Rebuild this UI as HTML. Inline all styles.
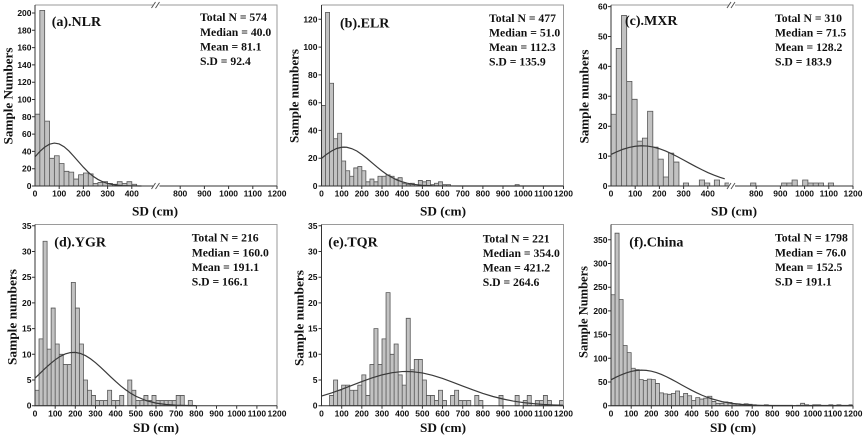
<!DOCTYPE html>
<html><head><meta charset="utf-8"><style>
html,body{margin:0;padding:0;background:#fff;}
svg{display:block;}
.tk{font-family:"Liberation Sans",Arial,sans-serif;font-weight:bold;font-size:8.5px;fill:#111;}
.sr{font-family:"Liberation Serif","Times New Roman",serif;font-weight:bold;fill:#111;}
.st{font-size:11.7px;}
.ti{font-size:14px;}
.ax{font-size:13px;}
.bar{fill:#c2c2c2;stroke:#555;stroke-width:0.8;vector-effect:non-scaling-stroke;}
.cv{fill:none;stroke:#3a3a3a;stroke-width:1.2;vector-effect:non-scaling-stroke;}
.fr{fill:none;stroke:#9a9a9a;stroke-width:1;}
.axl{fill:none;stroke:#333;stroke-width:1;}
</style></head><body>
<svg width="865" height="439" viewBox="0 0 865 439" xmlns="http://www.w3.org/2000/svg">
<rect width="865" height="439" fill="#fff"/>

<!-- ===== Panel A ===== -->
<g transform="translate(35,186) scale(0.242,-0.865)">
<path class="bar" d="M0 0v83h20v-83zM20 0v203h20v-203zM40 0v75h20v-75zM60 0v32h20v-32zM80 0v35h20v-35zM100 0v26h20v-26zM120 0v17h20v-17zM140 0v16h20v-16zM160 0v8h20v-8zM180 0v13h20v-13zM200 0v15h20v-15zM220 0v14h20v-14zM240 0v3h20v-3zM260 0v4h20v-4zM280 0v5h20v-5zM300 0v3h20v-3zM320 0v2h20v-2zM340 0v5h20v-5zM360 0v3h20v-3zM380 0v5h20v-5zM400 0v2h20v-2z"/>
<polyline class="cv" points="0,33.7 20,39.9 40,44.9 60,48.3 80,49.6 100,48.6 120,45.4 140,40.5 160,34.4 180,28.0 200,21.7 220,16.0 240,11.3 260,7.6 280,4.9 300,3.0 320,1.75 340,0.98 360,0.52 380,0.27 400,0.13 440,0.03"/>
</g>
<path class="fr" d="M35 5H277V186"/>
<path class="axl" d="M35 5V186H277"/>
<path class="axl" d="M32 186h3M32 168.7h3M32 151.4h3M32 134.1h3M32 116.8h3M32 99.5h3M32 82.2h3M32 64.9h3M32 47.6h3M32 30.3h3M32 13h3M59.2 186v3M83.4 186v3M107.6 186v3M131.8 186v3M180.2 186v3M204.4 186v3M228.6 186v3M252.8 186v3M277 186v3"/>
<rect x="153.5" y="1" width="6" height="8" fill="#fff"/><rect x="153.5" y="182" width="6" height="8" fill="#fff"/>
<path d="M151.5 8L155.5 2M155.5 8L159.5 2M151.5 189L155.5 183M155.5 189L159.5 183" stroke="#555" stroke-width="1" fill="none"/>
<g class="tk" text-anchor="end">
<text x="31.5" y="189">0</text><text x="31.5" y="171.7">20</text><text x="31.5" y="154.4">40</text><text x="31.5" y="137.1">60</text><text x="31.5" y="119.8">80</text><text x="31.5" y="102.5">100</text><text x="31.5" y="85.2">120</text><text x="31.5" y="67.9">140</text><text x="31.5" y="50.6">160</text><text x="31.5" y="33.3">180</text><text x="31.5" y="16">200</text>
</g>
<g class="tk" text-anchor="middle">
<text x="35" y="196.7">0</text><text x="59.2" y="196.7">100</text><text x="83.4" y="196.7">200</text><text x="107.6" y="196.7">300</text><text x="131.8" y="196.7">400</text><text x="180.2" y="196.7">800</text><text x="204.4" y="196.7">900</text><text x="228.6" y="196.7">1000</text><text x="252.8" y="196.7">1100</text><text x="277" y="196.7">1200</text>
</g>
<text class="sr ti" x="51.7" y="26">(a).NLR</text>
<g class="sr st"><text x="200" y="21">Total N = 574</text><text x="200" y="35.8">Median = 40.0</text><text x="200" y="50.5">Mean = 81.1</text><text x="200" y="65.2">S.D = 92.4</text></g>
<text class="sr ax" text-anchor="middle" x="155" y="215.5" textLength="46" lengthAdjust="spacingAndGlyphs">SD (cm)</text>
<text class="sr ax" text-anchor="middle" transform="translate(12.5,96) rotate(-90)" textLength="97" lengthAdjust="spacingAndGlyphs">Sample Numbers</text>

<!-- ===== Panel B ===== -->
<g transform="translate(321.5,186) scale(0.2017,-1.389)">
<path class="bar" d="M0 0v58h20v-58zM20 0v125h20v-125zM40 0v74h20v-74zM60 0v34h20v-34zM80 0v38h20v-38zM100 0v18h20v-18zM120 0v11h20v-11zM140 0v7h20v-7zM160 0v13h20v-13zM180 0v14h20v-14zM200 0v11h20v-11zM220 0v3h20v-3zM240 0v5h20v-5zM260 0v3h20v-3zM280 0v7h20v-7zM300 0v7h20v-7zM320 0v8h20v-8zM340 0v7h20v-7zM360 0v5h20v-5zM380 0v6h20v-6zM400 0v2h20v-2zM420 0v1h20v-1zM440 0v2h20v-2zM480 0v4h20v-4zM500 0v3h20v-3zM520 0v4h20v-4zM540 0v1h20v-1zM560 0v2h20v-2zM580 0v3h20v-3zM600 0v1h20v-1zM620 0v1h20v-1zM960 0v1h20v-1z"/>
<polyline class="cv" points="0,19.9 25,22.8 50,25.2 75,27.0 100,27.9 112,28.0 125,27.9 150,26.9 175,25.2 200,22.7 225,19.9 250,16.8 275,13.7 300,10.8 325,8.2 350,6.1 375,4.3 400,3.0 425,2.0 450,1.28 500,0.48 550,0.16 600,0.05 700,0 1200,0"/>
</g>
<path class="fr" d="M321.5 5H563.5V186"/>
<path class="axl" d="M321.5 5V186H563.5"/>
<path class="axl" d="M318.5 186h3M318.5 158.2h3M318.5 130.4h3M318.5 102.7h3M318.5 74.9h3M318.5 47.1h3M318.5 19.3h3M341.7 186v3M361.8 186v3M382 186v3M402.2 186v3M422.4 186v3M442.5 186v3M462.7 186v3M482.9 186v3M503 186v3M523.2 186v3M543.4 186v3M563.5 186v3"/>
<g class="tk" text-anchor="end">
<text x="317.5" y="189">0</text><text x="317.5" y="161.2">20</text><text x="317.5" y="133.4">40</text><text x="317.5" y="105.7">60</text><text x="317.5" y="77.9">80</text><text x="317.5" y="50.1">100</text><text x="317.5" y="22.3">120</text>
</g>
<g class="tk" text-anchor="middle">
<text x="321.5" y="196.7">0</text><text x="341.7" y="196.7">100</text><text x="361.8" y="196.7">200</text><text x="382" y="196.7">300</text><text x="402.2" y="196.7">400</text><text x="422.4" y="196.7">500</text><text x="442.5" y="196.7">600</text><text x="462.7" y="196.7">700</text><text x="482.9" y="196.7">800</text><text x="503" y="196.7">900</text><text x="523.2" y="196.7">1000</text><text x="543.4" y="196.7">1100</text><text x="563.5" y="196.7">1200</text>
</g>
<text class="sr ti" x="340" y="27.5">(b).ELR</text>
<g class="sr st"><text x="489" y="22">Total N = 477</text><text x="489" y="36.5">Median = 51.0</text><text x="489" y="51">Mean = 112.3</text><text x="489" y="65.5">S.D = 135.9</text></g>
<text class="sr ax" text-anchor="middle" x="443" y="215.5" textLength="46" lengthAdjust="spacingAndGlyphs">SD (cm)</text>
<text class="sr ax" text-anchor="middle" transform="translate(298.5,96) rotate(-90)" textLength="94" lengthAdjust="spacingAndGlyphs">Sample numbers</text>

<!-- ===== Panel C ===== -->
<g transform="translate(611,186) scale(0.242,-2.99)">
<path class="bar" d="M0 0v24h21.6v-24zM21.6 0v46h21.6v-46zM43.2 0v57h21.6v-57zM64.8 0v35h21.6v-35zM86.4 0v29h21.6v-29zM108 0v15h21.6v-15zM129.6 0v16h21.6v-16zM151.2 0v25h21.6v-25zM172.8 0v13h21.6v-13zM194.4 0v9h21.6v-9zM216 0v3h21.6v-3zM237.6 0v11h21.6v-11zM259.2 0v8h21.6v-8zM299 0v1h21.6v-1zM365 0v2h21.6v-2zM386.6 0v1h21.6v-1zM427 0v2h21.6v-2zM471 0v1h21.6v-1zM577 0v1h21.6v-1zM705 0v1h21.6v-1zM726.6 0v1h21.6v-1zM748.2 0v2h21.6v-2zM792 0v2h21.6v-2zM813.6 0v1h21.6v-1zM835.2 0v1h21.6v-1zM856.8 0v1h21.6v-1zM898 0v1h21.6v-1z"/>
<polyline class="cv" points="0,10.55 25,11.49 50,12.29 75,12.90 100,13.29 125,13.45 150,13.36 175,13.02 200,12.46 225,11.71 250,10.80 275,9.78 300,8.69 325,7.59 350,6.50 375,5.47 400,4.51 425,3.66 450,2.91 470,2.4"/>
</g>
<path class="fr" d="M611 5H853V186"/>
<path class="axl" d="M611 5V186H853"/>
<path class="axl" d="M608 186h3M608 156.1h3M608 126.2h3M608 96.3h3M608 66.4h3M608 36.5h3M608 6.6h3M635.2 186v3M659.4 186v3M683.6 186v3M707.8 186v3M756.2 186v3M780.4 186v3M804.6 186v3M828.8 186v3M853 186v3"/>
<rect x="729" y="1" width="6" height="8" fill="#fff"/><rect x="729" y="182" width="6" height="8" fill="#fff"/>
<path d="M727 8L731 2M731 8L735 2M727 189L731 183M731 189L735 183" stroke="#555" stroke-width="1" fill="none"/>
<g class="tk" text-anchor="end">
<text x="607.5" y="189">0</text><text x="607.5" y="159.1">10</text><text x="607.5" y="129.2">20</text><text x="607.5" y="99.3">30</text><text x="607.5" y="69.4">40</text><text x="607.5" y="39.5">50</text><text x="607.5" y="9.6">60</text>
</g>
<g class="tk" text-anchor="middle">
<text x="611" y="196.7">0</text><text x="635.2" y="196.7">100</text><text x="659.4" y="196.7">200</text><text x="683.6" y="196.7">300</text><text x="707.8" y="196.7">400</text><text x="756.2" y="196.7">800</text><text x="780.4" y="196.7">900</text><text x="804.6" y="196.7">1000</text><text x="828.8" y="196.7">1100</text><text x="853" y="196.7">1200</text>
</g>
<text class="sr ti" x="625" y="25">(c).MXR</text>
<g class="sr st"><text x="775" y="22">Total N = 310</text><text x="775" y="36.5">Median = 71.5</text><text x="775" y="51">Mean = 128.2</text><text x="775" y="65.5">S.D = 183.9</text></g>
<text class="sr ax" text-anchor="middle" x="734" y="215.5" textLength="46" lengthAdjust="spacingAndGlyphs">SD (cm)</text>
<text class="sr ax" text-anchor="middle" transform="translate(588.5,96.5) rotate(-90)" textLength="94" lengthAdjust="spacingAndGlyphs">Sample numbers</text>

<!-- ===== Panel D ===== -->
<g transform="translate(35,405.7) scale(0.2017,-5.14)">
<path class="bar" d="M0 0v3h20v-3zM20 0v13h20v-13zM40 0v32h20v-32zM60 0v11h20v-11zM80 0v19h20v-19zM100 0v12h20v-12zM120 0v10h20v-10zM140 0v8h20v-8zM160 0v8h20v-8zM180 0v24h20v-24zM200 0v19h20v-19zM220 0v12h20v-12zM240 0v5h20v-5zM260 0v3h20v-3zM280 0v2h20v-2zM300 0v1h20v-1zM320 0v1h20v-1zM340 0v1h20v-1zM360 0v3h20v-3zM380 0v1h20v-1zM400 0v1h20v-1zM420 0v2h20v-2zM460 0v5h20v-5zM480 0v3h20v-3zM500 0v1h20v-1zM520 0v1h20v-1zM540 0v2h20v-2zM560 0v1h20v-1zM580 0v2h20v-2zM600 0v1h20v-1zM620 0v1h20v-1zM640 0v1h20v-1zM660 0v1h20v-1zM680 0v1h20v-1zM700 0v2h20v-2zM720 0v2h20v-2zM760 0v1h20v-1z"/>
<polyline class="cv" points="0,5.36 25,6.30 50,7.24 75,8.13 100,8.93 125,9.59 150,10.07 175,10.33 200,10.37 225,10.17 250,9.75 275,9.14 300,8.37 325,7.50 350,6.57 375,5.62 400,4.71 425,3.85 450,3.08 475,2.41 500,1.84 550,1.01 600,0.50 650,0.23 700,0.095 750,0.035 800,0.012"/>
</g>
<path class="fr" d="M35 224.5H277V405.7"/>
<path class="axl" d="M35 224.5V405.7H277"/>
<path class="axl" d="M32 405.7h3M32 380h3M32 354.3h3M32 328.6h3M32 302.9h3M32 277.2h3M32 251.5h3M32 225.8h3M55.2 405.7v3M75.3 405.7v3M95.5 405.7v3M115.7 405.7v3M135.9 405.7v3M156 405.7v3M176.2 405.7v3M196.4 405.7v3M216.5 405.7v3M236.7 405.7v3M256.9 405.7v3M277 405.7v3"/>
<g class="tk" text-anchor="end">
<text x="31.5" y="408.7">0</text><text x="31.5" y="383">5</text><text x="31.5" y="357.3">10</text><text x="31.5" y="331.6">15</text><text x="31.5" y="305.9">20</text><text x="31.5" y="280.2">25</text><text x="31.5" y="254.5">30</text><text x="31.5" y="228.8">35</text>
</g>
<g class="tk" text-anchor="middle">
<text x="35" y="416.5">0</text><text x="55.2" y="416.5">100</text><text x="75.3" y="416.5">200</text><text x="95.5" y="416.5">300</text><text x="115.7" y="416.5">400</text><text x="135.9" y="416.5">500</text><text x="156" y="416.5">600</text><text x="176.2" y="416.5">700</text><text x="196.4" y="416.5">800</text><text x="216.5" y="416.5">900</text><text x="236.7" y="416.5">1000</text><text x="256.9" y="416.5">1100</text><text x="277" y="416.5">1200</text>
</g>
<text class="sr ti" x="54.3" y="246.3">(d).YGR</text>
<g class="sr st"><text x="191.7" y="241.7">Total N = 216</text><text x="191.7" y="256.3">Median = 160.0</text><text x="191.7" y="270.8">Mean = 191.1</text><text x="191.7" y="285.3">S.D = 166.1</text></g>
<text class="sr ax" text-anchor="middle" x="156" y="432" textLength="46" lengthAdjust="spacingAndGlyphs">SD (cm)</text>
<text class="sr ax" text-anchor="middle" transform="translate(16.5,317) rotate(-90)" textLength="96" lengthAdjust="spacingAndGlyphs">Sample numbers</text>

<!-- ===== Panel E ===== -->
<g transform="translate(321.5,405.7) scale(0.2017,-5.14)">
<path class="bar" d="M40 0v2h20v-2zM60 0v5h20v-5zM80 0v3h20v-3zM100 0v4h20v-4zM120 0v4h20v-4zM140 0v3h20v-3zM160 0v3h20v-3zM180 0v4h20v-4zM200 0v6h20v-6zM220 0v2h20v-2zM240 0v8h20v-8zM260 0v15h20v-15zM280 0v8h20v-8zM300 0v13h20v-13zM320 0v22h20v-22zM340 0v10h20v-10zM360 0v12h20v-12zM380 0v6h20v-6zM400 0v4h20v-4zM420 0v17h20v-17zM440 0v7h20v-7zM460 0v9h20v-9zM480 0v9h20v-9zM500 0v5h20v-5zM520 0v2h20v-2zM540 0v2h20v-2zM560 0v1h20v-1zM580 0v3h20v-3zM600 0v1h20v-1zM640 0v2h20v-2zM660 0v3h20v-3zM680 0v1h20v-1zM700 0v1h20v-1zM720 0v1h20v-1zM760 0v2h20v-2zM780 0v1h20v-1zM880 0v2h20v-2zM960 0v2h20v-2zM1000 0v1h20v-1zM1020 0v2h20v-2zM1060 0v1h20v-1zM1080 0v1h20v-1zM1100 0v2h20v-2zM1120 0v1h20v-1zM1180 0v1h20v-1z"/>
<polyline class="cv" points="0,1.88 50,2.49 100,3.19 150,3.94 200,4.70 250,5.40 300,6.00 350,6.42 400,6.64 421,6.66 450,6.62 500,6.37 550,5.92 600,5.30 650,4.58 700,3.82 750,3.08 800,2.39 850,1.79 900,1.30 950,0.90 1000,0.61 1050,0.40 1100,0.25 1150,0.15 1200,0.09"/>
</g>
<path class="fr" d="M321.5 224.5H563.5V405.7"/>
<path class="axl" d="M321.5 224.5V405.7H563.5"/>
<path class="axl" d="M318.5 405.7h3M318.5 380h3M318.5 354.3h3M318.5 328.6h3M318.5 302.9h3M318.5 277.2h3M318.5 251.5h3M318.5 225.8h3M341.7 405.7v3M361.8 405.7v3M382 405.7v3M402.2 405.7v3M422.4 405.7v3M442.5 405.7v3M462.7 405.7v3M482.9 405.7v3M503 405.7v3M523.2 405.7v3M543.4 405.7v3M563.5 405.7v3"/>
<g class="tk" text-anchor="end">
<text x="317.5" y="408.7">0</text><text x="317.5" y="383">5</text><text x="317.5" y="357.3">10</text><text x="317.5" y="331.6">15</text><text x="317.5" y="305.9">20</text><text x="317.5" y="280.2">25</text><text x="317.5" y="254.5">30</text><text x="317.5" y="228.8">35</text>
</g>
<g class="tk" text-anchor="middle">
<text x="321.5" y="416.5">0</text><text x="341.7" y="416.5">100</text><text x="361.8" y="416.5">200</text><text x="382" y="416.5">300</text><text x="402.2" y="416.5">400</text><text x="422.4" y="416.5">500</text><text x="442.5" y="416.5">600</text><text x="462.7" y="416.5">700</text><text x="482.9" y="416.5">800</text><text x="503" y="416.5">900</text><text x="523.2" y="416.5">1000</text><text x="543.4" y="416.5">1100</text><text x="563.5" y="416.5">1200</text>
</g>
<text class="sr ti" x="328.3" y="246.3">(e).TQR</text>
<g class="sr st"><text x="482.7" y="242.3">Total N = 221</text><text x="482.7" y="256.8">Median = 354.0</text><text x="482.7" y="271.3">Mean = 421.2</text><text x="482.7" y="285.8">S.D = 264.6</text></g>
<text class="sr ax" text-anchor="middle" x="443" y="432" textLength="46" lengthAdjust="spacingAndGlyphs">SD (cm)</text>
<text class="sr ax" text-anchor="middle" transform="translate(303.5,318) rotate(-90)" textLength="96" lengthAdjust="spacingAndGlyphs">Sample numbers</text>

<!-- ===== Panel F ===== -->
<g transform="translate(611,405.7) scale(0.2017,-0.474)">
<path class="bar" d="M0 0v234h20v-234zM20 0v364h20v-364zM40 0v224h20v-224zM60 0v127h20v-127zM80 0v112h20v-112zM100 0v79h20v-79zM120 0v76h20v-76zM140 0v55h20v-55zM160 0v53h20v-53zM180 0v56h20v-56zM200 0v55h20v-55zM220 0v47h20v-47zM240 0v27h20v-27zM260 0v25h20v-25zM280 0v24h20v-24zM300 0v26h20v-26zM320 0v31h20v-31zM340 0v19h20v-19zM360 0v26h20v-26zM380 0v21h20v-21zM400 0v11h20v-11zM420 0v17h20v-17zM440 0v14h20v-14zM460 0v16h20v-16zM480 0v20h20v-20zM500 0v9h20v-9zM520 0v5h20v-5zM540 0v5h20v-5zM560 0v8h20v-8zM580 0v7h20v-7zM600 0v4h20v-4zM620 0v4h20v-4zM640 0v3h20v-3zM660 0v4h20v-4zM680 0v3h20v-3zM700 0v2h20v-2zM720 0v1h20v-1zM740 0v1h20v-1zM760 0v2h20v-2zM780 0v1h20v-1zM800 0v1h20v-1zM820 0v1h20v-1zM840 0v1h20v-1zM860 0v1h20v-1zM880 0v1h20v-1zM920 0v1h20v-1zM940 0v5h20v-5zM960 0v2h20v-2zM980 0v1h20v-1zM1000 0v2h20v-2zM1020 0v2h20v-2zM1040 0v1h20v-1zM1060 0v1h20v-1zM1080 0v2h20v-2zM1100 0v1h20v-1zM1120 0v2h20v-2zM1140 0v1h20v-1zM1160 0v1h20v-1zM1180 0v2h20v-2z"/>
<polyline class="cv" points="0,54.6 25,60.1 50,65.0 75,69.1 100,72.3 125,74.3 150,75.07 175,74.5 200,72.8 225,69.9 250,65.9 275,61.1 300,55.7 325,50.0 350,44.0 375,38.1 400,32.5 425,27.2 450,22.3 475,18.1 500,14.4 550,8.64 600,4.84 650,2.52 700,1.23 750,0.55 800,0.23 900,0.03 1200,0"/>
</g>
<path class="fr" d="M611 224.5H853V405.7"/>
<path class="axl" d="M611 224.5V405.7H853"/>
<path class="axl" d="M608 405.7h3M608 382h3M608 358.3h3M608 334.6h3M608 310.9h3M608 287.2h3M608 263.5h3M608 239.8h3M631.2 405.7v3M651.3 405.7v3M671.5 405.7v3M691.7 405.7v3M711.9 405.7v3M732 405.7v3M752.2 405.7v3M772.4 405.7v3M792.5 405.7v3M812.7 405.7v3M832.9 405.7v3M853 405.7v3"/>
<g class="tk" text-anchor="end">
<text x="607.5" y="408.7">0</text><text x="607.5" y="385">50</text><text x="607.5" y="361.3">100</text><text x="607.5" y="337.6">150</text><text x="607.5" y="313.9">200</text><text x="607.5" y="290.2">250</text><text x="607.5" y="266.5">300</text><text x="607.5" y="242.8">350</text>
</g>
<g class="tk" text-anchor="middle">
<text x="611" y="416.5">0</text><text x="631.2" y="416.5">100</text><text x="651.3" y="416.5">200</text><text x="671.5" y="416.5">300</text><text x="691.7" y="416.5">400</text><text x="711.9" y="416.5">500</text><text x="732" y="416.5">600</text><text x="752.2" y="416.5">700</text><text x="772.4" y="416.5">800</text><text x="792.5" y="416.5">900</text><text x="812.7" y="416.5">1000</text><text x="832.9" y="416.5">1100</text><text x="853" y="416.5">1200</text>
</g>
<text class="sr ti" x="629.3" y="246.3">(f).China</text>
<g class="sr st"><text x="775" y="241.7">Total N = 1798</text><text x="775" y="256.3">Median = 76.0</text><text x="775" y="270.8">Mean = 152.5</text><text x="775" y="285.3">S.D = 191.1</text></g>
<text class="sr ax" text-anchor="middle" x="733" y="432" textLength="46" lengthAdjust="spacingAndGlyphs">SD (cm)</text>
<text class="sr ax" text-anchor="middle" transform="translate(587.5,312) rotate(-90)" textLength="92" lengthAdjust="spacingAndGlyphs">Sample Numbers</text>
</svg>
</body></html>
